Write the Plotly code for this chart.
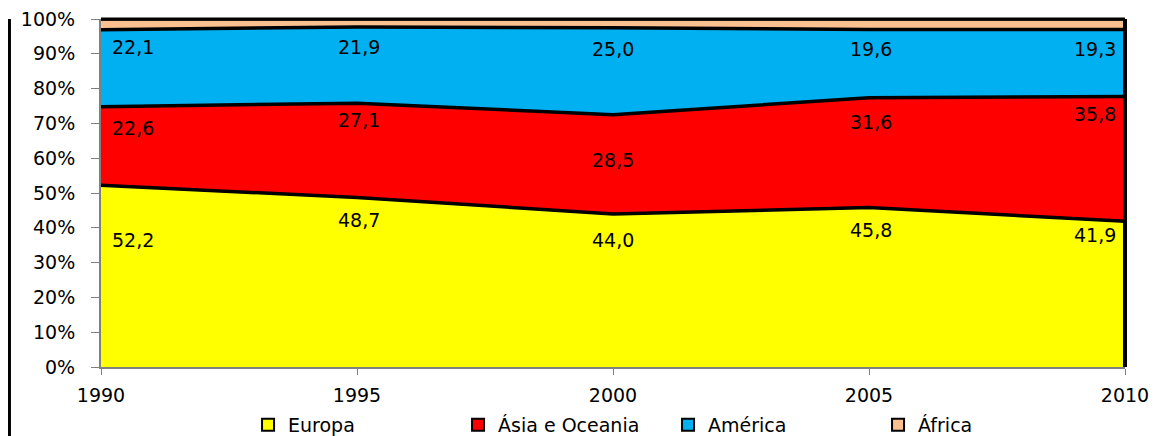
import plotly.graph_objects as go

years = [1990, 1995, 2000, 2005, 2010]
europa = [52.2, 48.7, 44.0, 45.8, 41.9]
asia = [22.6, 27.1, 28.5, 31.6, 35.8]
america = [22.1, 21.9, 25.0, 19.6, 19.3]
africa = [round(100 - e - a - m, 1) for e, a, m in zip(europa, asia, america)]

series_names = ["Europa", "Ásia e Oceania", "América", "África"]
series_vals = [europa, asia, america, africa]
colors = ["#FFFF00", "#FF0000", "#00B0F0", "#FAC090"]

# label placement (styling): y-position within chart (%) and x pixel shifts
label_y = {
    "Europa": [36.5, 42.2, 36.5, 39.4, 38.0],
    "Ásia e Oceania": [68.7, 71.0, 59.5, 70.4, 72.6],
    "América": [92.0, 92.0, 91.4, 91.4, 91.4],
}
xshift = [32, 2, 0, 2, -30]

FONT = "DejaVu Sans"
fig = go.Figure()
for name, vals, col in zip(series_names, series_vals, colors):
    fig.add_trace(go.Scatter(
        x=years, y=vals, stackgroup="one", mode="lines",
        line=dict(color="black", width=3.5), fillcolor=col,
        showlegend=False, hoverinfo="skip", name=name))
for name, col in zip(series_names, colors):
    fig.add_trace(go.Scatter(
        x=[None], y=[None], mode="markers", name=name,
        marker=dict(symbol="square", size=12, color=col,
                    line=dict(color="black", width=3))))

annotations = []
for name, vals in zip(series_names[:3], series_vals[:3]):
    for i, (yr, v) in enumerate(zip(years, vals)):
        annotations.append(dict(
            x=yr, y=label_y[name][i], text=f"{v:.1f}".replace(".", ","),
            showarrow=False, xshift=xshift[i],
            font=dict(family=FONT, size=19, color="black")))

fig.update_layout(
    width=1149, height=428,
    margin=dict(l=93, r=32, t=11, b=69, autoexpand=False),
    plot_bgcolor="white", paper_bgcolor="white",
    font=dict(family=FONT, size=19, color="black"),
    xaxis=dict(range=[1990, 2010], tickvals=years, ticktext=[str(y) for y in years],
               showgrid=False, zeroline=False, showline=True, linecolor="#808080",
               linewidth=2, ticks="outside", ticklen=6, tickcolor="#808080",
               tickfont=dict(size=19), automargin=False, ticklabeloverflow="allow",
               ticklabelstandoff=4),
    yaxis=dict(range=[0, 100], tickvals=list(range(0, 101, 10)),
               ticktext=[f"{v}%" for v in range(0, 101, 10)],
               showgrid=False, zeroline=False, showline=True, linecolor="#808080",
               linewidth=2, ticks="outside", ticklen=8, tickcolor="#808080",
               tickfont=dict(size=19), automargin=False, ticklabeloverflow="allow",
               ticklabelstandoff=12),
    legend=dict(orientation="h", x=0.1436, xanchor="left", y=-0.112, yanchor="top",
                font=dict(family=FONT, size=19), entrywidth=165, entrywidthmode="pixels",
                itemsizing="constant", traceorder="normal"),
    annotations=annotations,
    shapes=[
        dict(type="line", xref="paper", yref="paper", x0=1, x1=1, y0=0, y1=1,
             line=dict(color="black", width=4)),
        dict(type="line", xref="paper", yref="paper", x0=0, x1=1, y0=1, y1=1,
             line=dict(color="black", width=3)),
        dict(type="line", xref="paper", yref="paper", x0=-0.0894, x1=-0.0894, y0=1.0, y1=-0.2,
             line=dict(color="black", width=3)),
    ],
)
fig.write_html("out.html")
